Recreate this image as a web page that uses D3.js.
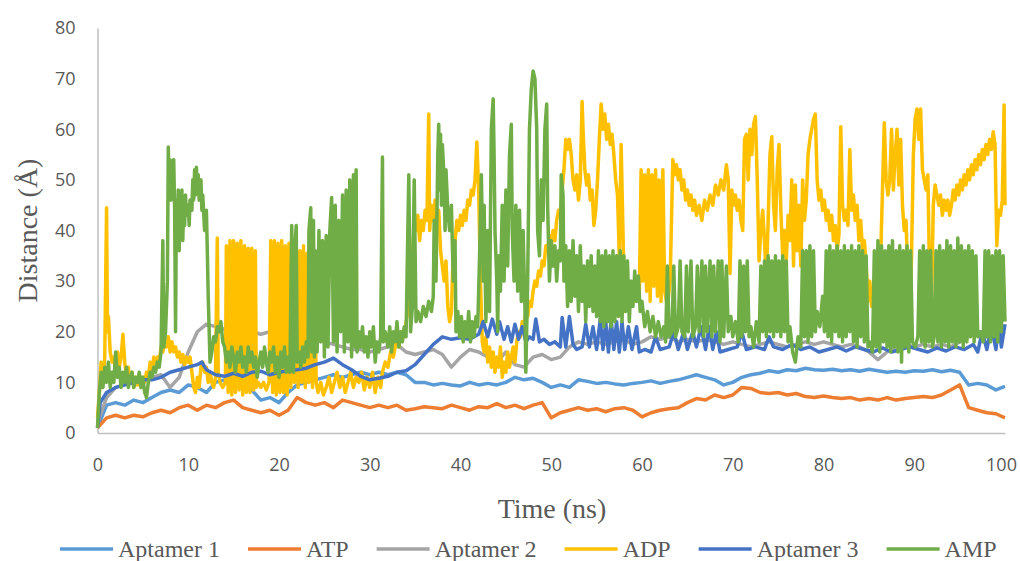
<!DOCTYPE html>
<html>
<head>
<meta charset="utf-8">
<script src="https://cdn.jsdelivr.net/npm/d3@7"></script>
<style>
  body { margin: 0; background: #fff; }
  svg { display: block; }
</style>
</head>
<body>
<svg id="chart"></svg>
<script>
const seriesNames = ["Aptamer 1", "ATP", "Aptamer 2", "ADP", "Aptamer 3", "AMP"];
const seriesColors = ["#5B9BD5", "#ED7D31", "#A5A5A5", "#FFC000", "#4472C4", "#70AD47"];
const xTicks = [0, 10, 20, 30, 40, 50, 60, 70, 80, 90, 100];
const yTicks = [0, 10, 20, 30, 40, 50, 60, 70, 80];

// one value per ns (index = time)
const aptamer1 = [1,5.5,6,5.5,6.5,6,7,8,8.5,8,
  9.5,9,8,10,10.5,10,9.5,8.5,6.5,7,
  6,8,9.5,10,10.5,11,11.5,11,11.5,12,
  11.5,12,11.5,12,11.5,10,10,9.5,9.8,9.5,
  9.3,10,9.5,9.8,9.5,10,11,10.5,10.8,10,
  9,9.5,9,10.5,10.2,9.8,10,9.7,9.5,9.8,
  10,10.3,9.8,10.2,10.5,11,11.5,11,10.5,9.5,
  10,11,11.5,11.8,12.3,12,12.5,12.3,12.8,12.5,
  12.4,12.6,12.3,12.5,12.2,12.6,12.3,12,12.2,12,
  12.3,12.2,12.5,12.1,12.4,12,9.5,9.8,9.5,8.5,
  9.2];

const atp = [1,3,3.5,3,3.5,3.2,4,4.5,4,5,
  5.5,4.5,5.5,5,6,6.5,5,4.5,4,4.5,
  3.5,4.5,7,6,5.5,6,5,6.5,6,5.5,
  5,5.5,5,5.5,4.5,4.8,5.2,5,4.8,5.5,
  5,4.5,5.2,5,5.8,5,5.5,4.8,5.5,6,
  3,4,4.5,5,4.5,4.8,4.2,4.8,5,4.5,
  3.2,4,4.5,4.8,5,6,6.8,6.5,7.5,7,
  7.5,9,8.8,8,7.8,8,7.5,7.8,7.2,7,
  7.3,7,6.8,7,6.5,6.8,6.5,7,6.5,6.8,
  7,7.2,7,7.5,8.5,9.5,5,4.5,4,3.8,
  3];

const aptamer2 = [2,7,9,9.5,10,10.5,11,11.5,9,11,
  16,20,21.5,21,20.5,20,20.5,20,19.5,20,
  19.5,19,19,18.5,18.5,18,17.5,17,16.5,16.5,
  16,16.5,17,17.5,16,15.5,16,16.5,15.5,13,
  15,16.5,16,15,14,16,13.5,13,15,15.5,
  14.5,15,17,18,17.5,18,17.5,18,18.5,17.5,
  18,19,18.5,19,18,18.5,18,18.5,18,17.5,
  18,17.5,17,17.5,18,17.5,17,17.5,18,17.5,
  18,17.5,17,17.5,17,16,14.5,16,17,17.5,
  17,17.5,17,17.5,17,18,19,20,19,19.5,
  20];

// [time ns, distance Å]
const aptamer3 = [[0,1],[0.3,6],[1,8],[2,9],[3,9.5],[4,10],[5,10.5],[6,10.5],[7,11],[8,12],[9,12.5],[10,13],[11,13.5],[11.5,14],[12,12.5],[13,11.5],[14,11.2],[15,11.8],[16,11.2],[17,12],[18,12.2],[19,11.5],[20,12],[21,12.3],[22,12.5],[23,12.8],[24,13.5],[25,14],[26,14.8],[27,13.5],[28,12.5],[29,11.2],[30,10.5],[31,10.8],[32,11.2],[33,12],[34,12.3],[35,13.5],[36,15.5],[37,17.5],[38,19],[39,18.5],[40,18.8],[41,18.5],[42,19.5],[42.5,22],[43,19],[43.5,22.5],[44,19.5],[44.3,22],[44.8,18.5],[45.2,21],[45.6,18],[46,21.5],[46.4,18.5],[46.8,21],[47.2,18],[47.6,19],[48,18.5],[48.3,22.5],[48.7,18],[49.2,18.5],[49.8,17.5],[50.4,18],[51,17],[51.2,22.8],[51.6,17],[52,23],[52.4,17.5],[52.8,16.5],[53.4,17],[53.8,21.5],[54.2,17],[54.6,21],[55,16.5],[55.4,22.5],[55.7,16.5],[56,22],[56.3,16],[56.6,22.5],[56.9,16.5],[57.2,22],[57.5,16],[57.8,22],[58.1,16.5],[58.5,21],[58.9,16.5],[59.4,21],[59.7,16],[60.3,16.5],[61,16],[61.5,19],[62,16.5],[63,17],[63.5,20],[64,16.5],[64.6,20],[65,16.5],[65.6,20],[66,17],[66.5,21],[67,16.5],[67.4,21],[67.8,16.5],[68.2,20],[68.6,16],[69.5,16.5],[70.5,17],[71,20],[71.5,16.5],[72.5,17],[73.5,16.5],[74,19],[74.5,17],[75.5,16.5],[76.5,17.5],[77.5,16.5],[78.5,17],[79.5,16],[80.5,16.5],[81.5,17],[82.5,16.2],[83.5,17],[84.5,16.5],[85.5,16],[86.5,16.8],[87.5,16],[88.5,16.5],[89.5,17],[90.5,16.5],[91.5,16],[92.5,16.8],[93.5,16.2],[94.5,17],[95.5,16.5],[96.5,17.5],[97,16],[97.5,20],[98,16.5],[98.5,21],[99,16.5],[99.3,21.5],[99.6,17],[100,21.5]];

const adp = [[0,3],[0.2,8],[0.4,14],[0.6,10],[0.8,15],[1.0,44.5],[1.1,20],[1.2,23],[1.4,16],[1.6,14],[1.8,15],[2.0,12],[2.2,16],[2.4,13],[2.6,15],[2.8,19.5],[3.0,14],[3.2,11],[3.4,13],[3.6,10],[3.8,12],[4.0,9],[4.2,11],[4.4,9.5],[4.6,10],[4.8,9],[5.0,11],[5.2,10],[5.4,12],[5.6,11],[5.8,14],[6.0,12],[6.2,15],[6.4,13],[6.6,15],[6.8,14],[7.0,17],[7.2,16],[7.4,18],[7.6,17],[7.8,19],[8.0,16],[8.2,18],[8.4,16],[8.6,17],[8.8,15],[9.0,16],[9.2,14],[9.4,15.5],[9.6,13.5],[9.8,15],[10.0,14],[10.2,15],[10.4,12],[10.6,9],[10.8,8],[11.0,11],[11.2,9],[11.4,13],[11.6,14],[11.8,12],[12.0,13],[12.2,10],[12.4,12],[12.6,10],[12.8,9],[13.0,11],[13.2,38.5],[13.3,12],[13.5,10],[13.8,9],[14.1,10],[14.2,37],[14.4,8],[14.6,38],[14.8,7.5],[15.0,38],[15.2,8],[15.4,37.5],[15.6,8.5],[15.8,38],[16.0,7.5],[16.2,37],[16.4,8],[16.6,36.5],[16.8,8],[17.0,36.5],[17.2,8.5],[17.4,36],[17.5,9],[17.7,10],[18.0,9],[18.3,10],[18.6,8.5],[18.9,10],[19.1,38],[19.3,8],[19.5,38],[19.7,7.5],[19.9,37.5],[20.1,8],[20.3,38],[20.5,8],[20.7,37],[20.9,7.5],[21.1,37.5],[21.3,9],[21.5,36],[21.7,10],[21.9,37],[22.1,9],[22.3,36],[22.5,10],[22.7,37],[22.9,9],[23.1,35.5],[23.3,10],[23.5,36],[23.7,9],[23.9,35],[24.1,10],[24.3,8],[24.6,10],[24.9,7.5],[25.2,9],[25.5,11],[25.8,8],[26.1,10],[26.4,12],[26.7,9],[27.0,11],[27.3,8],[27.6,10],[27.9,12],[28.2,9],[28.5,11],[28.8,10],[29.1,12],[29.4,8.5],[29.7,11],[30.0,9],[30.3,12],[30.6,8],[30.9,11],[31.2,9],[31.4,12],[31.7,14],[32.0,13],[32.3,16],[32.6,15],[32.9,18],[33.2,17],[33.5,20],[33.8,19],[34.1,23],[34.4,25],[34.7,35],[34.9,41],[35.1,40],[35.3,43],[35.5,38],[35.7,42],[35.9,40],[36.1,44],[36.3,42],[36.5,63],[36.6,40],[36.8,45],[37.0,42],[37.2,46],[37.4,40],[37.6,44],[37.8,36],[38.0,33],[38.2,30],[38.4,34],[38.6,25],[38.8,22],[39.0,24],[39.2,36],[39.4,38],[39.6,42],[39.8,40],[40.0,43],[40.2,41],[40.4,44],[40.6,42],[40.8,46],[41.0,45],[41.2,48],[41.4,47],[41.6,50],[41.8,57.5],[42.0,48],[42.2,30],[42.4,18],[42.6,16],[42.8,19],[43.0,14],[43.2,17],[43.4,13],[43.6,16],[43.8,12],[44.0,15],[44.2,13],[44.4,17],[44.6,11],[44.8,14],[45.0,12],[45.2,16],[45.4,13],[45.6,15],[45.8,17],[46.0,14],[46.2,18],[46.4,20],[46.6,19],[46.8,22],[47.0,21],[47.2,24],[47.4,23],[47.6,26],[47.8,25],[48.0,28],[48.2,30],[48.4,29],[48.6,32],[48.8,31],[49.0,34],[49.2,33],[49.4,37],[49.6,36],[49.8,39],[50.0,37],[50.2,40],[50.4,38],[50.6,42],[50.8,44],[51.0,43],[51.2,48],[51.4,52],[51.6,58],[51.8,56],[52.0,58],[52.2,55],[52.4,50],[52.6,48],[52.8,51],[53.0,46],[53.2,50],[53.4,65.5],[53.5,60],[53.7,52],[53.9,49],[54.1,51],[54.3,46],[54.5,48],[54.7,41],[54.9,44],[55.1,50],[55.3,58],[55.5,65],[55.7,60],[55.9,63],[56.1,58],[56.3,61],[56.5,57],[56.7,59],[56.9,55],[57.1,50],[57.3,47],[57.5,35],[57.7,57],[57.9,40],[58.1,24],[58.3,28],[58.5,25],[58.8,29],[59.1,26],[59.4,30],[59.7,27],[59.9,52],[60.1,30],[60.3,51],[60.5,28],[60.7,52],[60.9,26],[61.1,51],[61.3,29],[61.5,52],[61.7,27],[61.9,50],[62.1,26],[62.3,52],[62.5,28],[62.8,25],[63.1,30],[63.4,54],[63.6,51],[63.8,53],[64.0,50],[64.2,52],[64.4,48],[64.6,50],[64.8,46],[65.0,48],[65.2,45],[65.4,47],[65.6,44],[65.8,46],[66.0,43],[66.3,45],[66.6,42],[66.9,46],[67.2,44],[67.5,47],[67.8,45],[68.1,49],[68.4,47],[68.7,50],[69.0,48],[69.3,53],[69.5,50],[69.7,31.5],[69.9,48],[70.1,45],[70.3,47],[70.5,44],[70.7,46],[70.9,42],[71.1,40],[71.3,58],[71.5,59],[71.7,50],[71.9,60],[72.1,55],[72.3,61],[72.5,62.5],[72.7,50],[72.9,34],[73.1,40],[73.3,44],[73.5,38],[73.7,30],[73.9,42],[74.1,55],[74.3,58.5],[74.5,45],[74.7,40],[74.9,52],[75.1,57],[75.3,44],[75.5,35],[75.7,40],[75.9,34],[76.1,43],[76.3,38],[76.5,50],[76.7,33],[76.9,49],[77.1,36],[77.3,45],[77.5,33],[77.7,50],[77.9,42],[78.1,46],[78.3,55],[78.5,58],[78.7,60],[78.9,62],[79.1,63],[79.3,50],[79.5,46],[79.7,48],[79.9,44],[80.1,46],[80.3,42],[80.5,44],[80.7,40],[80.9,43],[81.1,38],[81.3,41],[81.5,36],[81.7,39],[81.9,60.5],[82.1,45],[82.3,42],[82.5,44],[82.7,41],[82.9,56],[83.1,44],[83.3,47],[83.5,42],[83.7,45],[83.9,38],[84.1,42],[84.3,36],[84.5,38],[84.7,33],[84.9,26],[85.1,30],[85.3,25],[85.5,28],[85.7,26],[85.9,30],[86.1,27],[86.3,35],[86.5,48],[86.7,61.3],[86.9,50],[87.1,47],[87.3,50],[87.5,60],[87.7,48],[87.9,55],[88.1,60],[88.3,49],[88.5,58],[88.7,45],[88.9,40],[89.1,42],[89.3,30],[89.5,20],[89.7,35],[89.9,55],[90.1,62],[90.3,64],[90.5,58],[90.7,64],[90.9,52],[91.1,50],[91.3,48],[91.5,51],[91.7,30],[91.9,25],[92.1,45],[92.3,49],[92.5,47],[92.7,45],[92.9,47],[93.1,43],[93.3,46],[93.5,44],[93.7,46],[93.9,43],[94.1,45],[94.3,48],[94.5,46],[94.7,49],[94.9,47],[95.1,50],[95.3,48],[95.5,51],[95.7,49],[95.9,52],[96.1,50],[96.3,53],[96.5,51],[96.7,54],[96.9,52],[97.1,55],[97.3,53],[97.5,56],[97.7,54],[97.9,57],[98.1,55],[98.3,58],[98.5,56],[98.7,59.5],[98.9,57],[99.1,37],[99.3,44],[99.5,43],[99.7,46],[99.9,64.8],[100,45]];

const amp = [[0,1],[0.2,8],[0.4,12],[0.6,9],[0.8,13],[1.0,10],[1.2,14],[1.4,9],[1.6,12],[1.8,10],[2.0,16],[2.2,11],[2.4,13],[2.6,9],[2.8,12],[3.0,10],[3.2,13],[3.4,9],[3.6,11],[3.8,12],[4.0,9],[4.2,11],[4.4,10],[4.6,12],[4.8,9],[5.0,11],[5.2,8],[5.4,7],[5.6,10],[5.8,12],[6.0,11],[6.2,13],[6.4,12],[6.6,14],[6.8,13],[7.0,16],[7.2,38],[7.3,17],[7.5,20],[7.7,30],[7.8,56.5],[7.9,48],[8.0,54],[8.1,46],[8.2,53],[8.3,50],[8.4,54],[8.5,44],[8.6,20],[8.7,46],[8.8,40],[8.9,48],[9.0,36],[9.1,47],[9.2,42],[9.3,48],[9.4,38],[9.5,46],[9.6,41],[9.7,47],[9.8,43],[10.0,45],[10.1,41],[10.2,46],[10.4,44],[10.5,50],[10.6,46],[10.7,52],[10.8,47],[10.9,52.5],[11.0,48],[11.1,51],[11.2,46],[11.4,50],[11.5,44],[11.6,47],[11.8,40],[12.0,44],[12.1,36],[12.2,27],[12.4,14],[12.6,16],[12.8,19],[13.0,18],[13.2,21],[13.4,20],[13.6,22],[13.8,18],[14.0,17],[14.2,14],[14.4,16],[14.6,13],[14.8,17],[15.0,15],[15.2,12],[15.4,16],[15.6,14],[15.8,17],[16.0,13],[16.2,15],[16.4,12],[16.6,17],[16.8,14],[17.0,16],[17.2,13],[17.4,15],[17.6,11],[17.8,14],[18.0,16],[18.2,13],[18.4,17],[18.6,14],[18.8,12],[19.0,16],[19.2,14],[19.4,17],[19.6,12],[19.8,15],[20.0,11],[20.2,16],[20.4,13],[20.6,17],[20.8,12],[21.0,15],[21.2,12],[21.4,41],[21.5,30],[21.6,12],[21.8,38],[21.9,41],[22.0,14],[22.2,16],[22.4,13],[22.6,17],[22.8,14],[23.0,18],[23.2,15],[23.3,40],[23.5,44.5],[23.6,16],[23.8,42],[23.9,15],[24.0,36],[24.2,16],[24.4,40],[24.6,18],[24.8,38],[25.0,15],[25.2,39],[25.4,17],[25.6,40],[25.8,46.5],[26.0,18],[26.2,45],[26.4,16],[26.6,42],[26.8,20],[27.0,47],[27.2,16],[27.4,48],[27.6,18],[27.8,50],[28.0,15],[28.2,51],[28.4,17],[28.5,52],[28.6,16],[28.8,20],[29.0,17],[29.2,21],[29.4,16],[29.6,19],[29.8,15],[30.0,20],[30.2,17],[30.4,21],[30.6,14],[30.8,18],[31.0,16],[31.2,19],[31.4,54.5],[31.5,18],[31.7,20],[32.0,17],[32.2,21],[32.4,16],[32.6,20],[32.8,18],[33.0,22],[33.2,17],[33.4,20],[33.6,18],[33.8,21],[34.0,19],[34.3,51],[34.5,20],[34.7,25],[34.9,50],[35.1,22],[35.3,24],[35.6,22],[35.9,25],[36.2,23],[36.5,26],[36.8,24],[37.0,27],[37.1,42],[37.3,30],[37.5,55],[37.6,61],[37.7,48],[37.8,59],[37.9,45],[38.0,57],[38.2,50],[38.3,40],[38.4,52],[38.6,44],[38.8,40],[39.0,45],[39.2,30],[39.4,38],[39.5,20],[39.7,24],[39.9,19],[40.1,23],[40.3,18],[40.5,22],[40.7,19],[40.9,24],[41.1,18],[41.3,22],[41.5,19],[41.7,23],[41.9,21],[42.1,35],[42.3,51],[42.5,30],[42.6,45],[42.8,22],[43.0,40],[43.2,24],[43.4,60],[43.6,66],[43.7,55],[43.8,40],[44.0,30],[44.1,20],[44.2,35],[44.4,28],[44.6,45],[44.8,30],[45.0,48],[45.2,33],[45.4,55],[45.6,61],[45.7,40],[45.9,30],[46.1,45],[46.3,28],[46.5,44],[46.7,26],[46.9,40],[47.1,25],[47.2,12],[47.4,30],[47.6,60],[47.8,68],[48.0,71.5],[48.2,70],[48.4,60],[48.5,40],[48.7,35],[48.9,50],[49.1,42],[49.3,60],[49.5,65],[49.6,45],[49.8,30],[50.0,38],[50.2,33],[50.4,37],[50.6,30],[50.8,36],[51.0,34],[51.1,51],[51.3,47],[51.4,30],[51.6,37],[51.8,25],[52.0,36],[52.2,26],[52.4,38],[52.6,27],[52.8,35],[53.0,24],[53.2,37],[53.4,26],[53.6,33],[53.8,22],[54.0,34],[54.2,25],[54.4,35],[54.6,24],[54.8,33],[55.0,23],[55.2,36],[55.4,22],[55.6,35],[55.8,21],[56.0,36],[56.2,22],[56.4,35],[56.6,21],[56.8,36],[57.0,22],[57.2,35],[57.4,23],[57.6,36],[57.8,22],[58.0,35],[58.2,24],[58.4,34],[58.6,22],[58.8,30],[59.0,25],[59.2,32],[59.4,26],[59.6,31],[59.8,24],[60.0,26],[60.3,21],[60.6,24],[60.9,20],[61.2,23],[61.5,19],[61.8,22],[62.1,19],[62.4,21],[62.6,18],[62.8,33],[63.0,19],[63.3,20],[63.5,33],[63.7,19],[64.0,21],[64.2,34],[64.4,20],[64.7,19],[64.9,33],[65.1,20],[65.4,34],[65.6,19],[65.9,21],[66.1,33],[66.3,20],[66.6,34],[66.8,19],[67.0,33],[67.2,20],[67.5,34],[67.7,19],[67.9,33],[68.1,20],[68.4,34],[68.6,18],[68.8,34],[69.0,19],[69.3,33],[69.5,20],[69.8,23],[70.0,19],[70.3,22],[70.6,18],[70.8,34],[71.0,19],[71.2,33],[71.4,20],[71.6,34],[71.8,19],[72.0,21],[72.3,17],[72.6,22],[72.9,18],[73.1,33],[73.3,20],[73.5,34],[73.7,19],[73.9,35],[74.1,20],[74.3,34],[74.5,19],[74.7,35],[74.9,20],[75.1,34],[75.3,19],[75.5,35],[75.7,20],[75.9,34],[76.1,18],[76.3,21],[76.6,16],[76.9,14],[77.2,19],[77.5,17],[77.7,36],[77.9,19],[78.1,36],[78.3,18],[78.5,37],[78.7,19],[78.9,36],[79.1,20],[79.3,24],[79.6,21],[79.9,27],[80.1,20],[80.3,36],[80.5,19],[80.7,37],[80.9,18],[81.1,36],[81.3,20],[81.5,37],[81.7,19],[81.9,36],[82.1,18],[82.3,37],[82.5,19],[82.7,36],[82.9,20],[83.1,37],[83.3,18],[83.5,36],[83.7,17],[83.9,37],[84.1,19],[84.3,36],[84.5,18],[84.7,35],[84.9,17],[85.1,18],[85.4,16],[85.6,36],[85.8,17],[86.0,38],[86.2,16],[86.4,37],[86.6,18],[86.8,36],[87.0,17],[87.2,37],[87.4,16],[87.6,38],[87.8,17],[88.0,36],[88.2,16],[88.4,37],[88.6,14],[88.8,36],[89.0,17],[89.2,37],[89.4,16],[89.6,36],[89.8,18],[90.1,17],[90.4,19],[90.6,36],[90.8,18],[91.0,37],[91.2,17],[91.4,36],[91.6,18],[91.8,36],[92.0,17],[92.2,19],[92.4,36],[92.6,18],[92.8,37],[93.0,17],[93.2,36],[93.4,18],[93.6,38],[93.8,17],[94.0,37],[94.2,18],[94.4,36],[94.6,17],[94.8,38.5],[95.0,18],[95.2,37],[95.4,17],[95.6,36],[95.8,18],[96.0,37],[96.2,19],[96.4,36],[96.6,18],[96.8,35],[97.0,19],[97.3,20],[97.6,18],[97.8,36],[98.0,19],[98.2,36],[98.4,18],[98.6,35],[98.8,19],[99.0,36],[99.2,18],[99.4,36],[99.6,20],[99.8,35],[100,22]];

const width = 1020;
const height = 561;
const margin = ({top: 28, right: 15, bottom: 128, left: 97.5});

const x = d3.scaleLinear()
    .domain([0, 100])
    .range([margin.left, width - margin.right]);

const y = d3.scaleLinear()
    .domain([0, 80])
    .range([height - margin.bottom, margin.top]);

const toPairs = arr => arr.map((v, i) => [i, v]);
const seriesData = [toPairs(aptamer1), toPairs(atp), toPairs(aptamer2), adp, aptamer3, amp];

const svg = d3.select("#chart")
    .attr("width", width)
    .attr("height", height)
    .attr("viewBox", [0, 0, width, height]);

const axisColor = "#bfbfbf";
const textColor = "#595959";

// y axis
svg.append("g")
    .attr("transform", `translate(${margin.left},0)`)
    .call(d3.axisLeft(y).tickValues(yTicks).tickSize(0).tickPadding(22))
    .call(g => g.select(".domain").attr("stroke", axisColor).attr("stroke-width", 1.5))
    .call(g => g.selectAll(".tick text")
        .attr("fill", textColor)
        .attr("font-family", "'Open Sans', sans-serif")
        .attr("font-size", 18));

// x axis
svg.append("g")
    .attr("transform", `translate(0,${y(0)})`)
    .call(d3.axisBottom(x).tickValues(xTicks).tickSize(0).tickPadding(25))
    .call(g => g.select(".domain").attr("stroke", axisColor).attr("stroke-width", 1.5))
    .call(g => g.selectAll(".tick text")
        .attr("fill", textColor)
        .attr("font-family", "'Open Sans', sans-serif")
        .attr("font-size", 18)
        .attr("dx", d => d === 100 ? -4 : 0));

const line = d3.line()
    .x(d => x(d[0]))
    .y(d => y(d[1]));

svg.append("g")
    .attr("fill", "none")
    .attr("stroke-linejoin", "round")
    .selectAll("path")
    .data(seriesData)
    .join("path")
    .attr("stroke", (d, i) => seriesColors[i])
    .attr("stroke-width", 3.5)
    .attr("d", line);

// axis titles
svg.append("text")
    .attr("transform", `translate(37,${(y(0) + y(80)) / 2}) rotate(-90)`)
    .attr("text-anchor", "middle")
    .attr("font-family", "'Liberation Serif', 'Times New Roman', serif")
    .attr("font-size", 28)
    .attr("fill", textColor)
    .text("Distance (Å)");

svg.append("text")
    .attr("x", 552)
    .attr("y", 518)
    .attr("text-anchor", "middle")
    .attr("font-family", "'Liberation Serif', 'Times New Roman', serif")
    .attr("font-size", 28)
    .attr("fill", textColor)
    .text("Time (ns)");

// legend
const legend = svg.append("g")
    .attr("font-family", "'Liberation Serif', 'Times New Roman', serif")
    .attr("font-size", 24)
    .attr("fill", textColor);

let lx = 60;
seriesNames.forEach((name, i) => {
  const item = legend.append("g").attr("transform", `translate(${lx},549)`);
  item.append("line")
      .attr("x1", 0).attr("x2", 53)
      .attr("stroke", seriesColors[i])
      .attr("stroke-width", 3.5);
  const t = item.append("text")
      .attr("x", 58)
      .attr("y", 8)
      .text(name);
  lx += 58 + t.node().getComputedTextLength() + 28;
});
</script>
</body>
</html>
